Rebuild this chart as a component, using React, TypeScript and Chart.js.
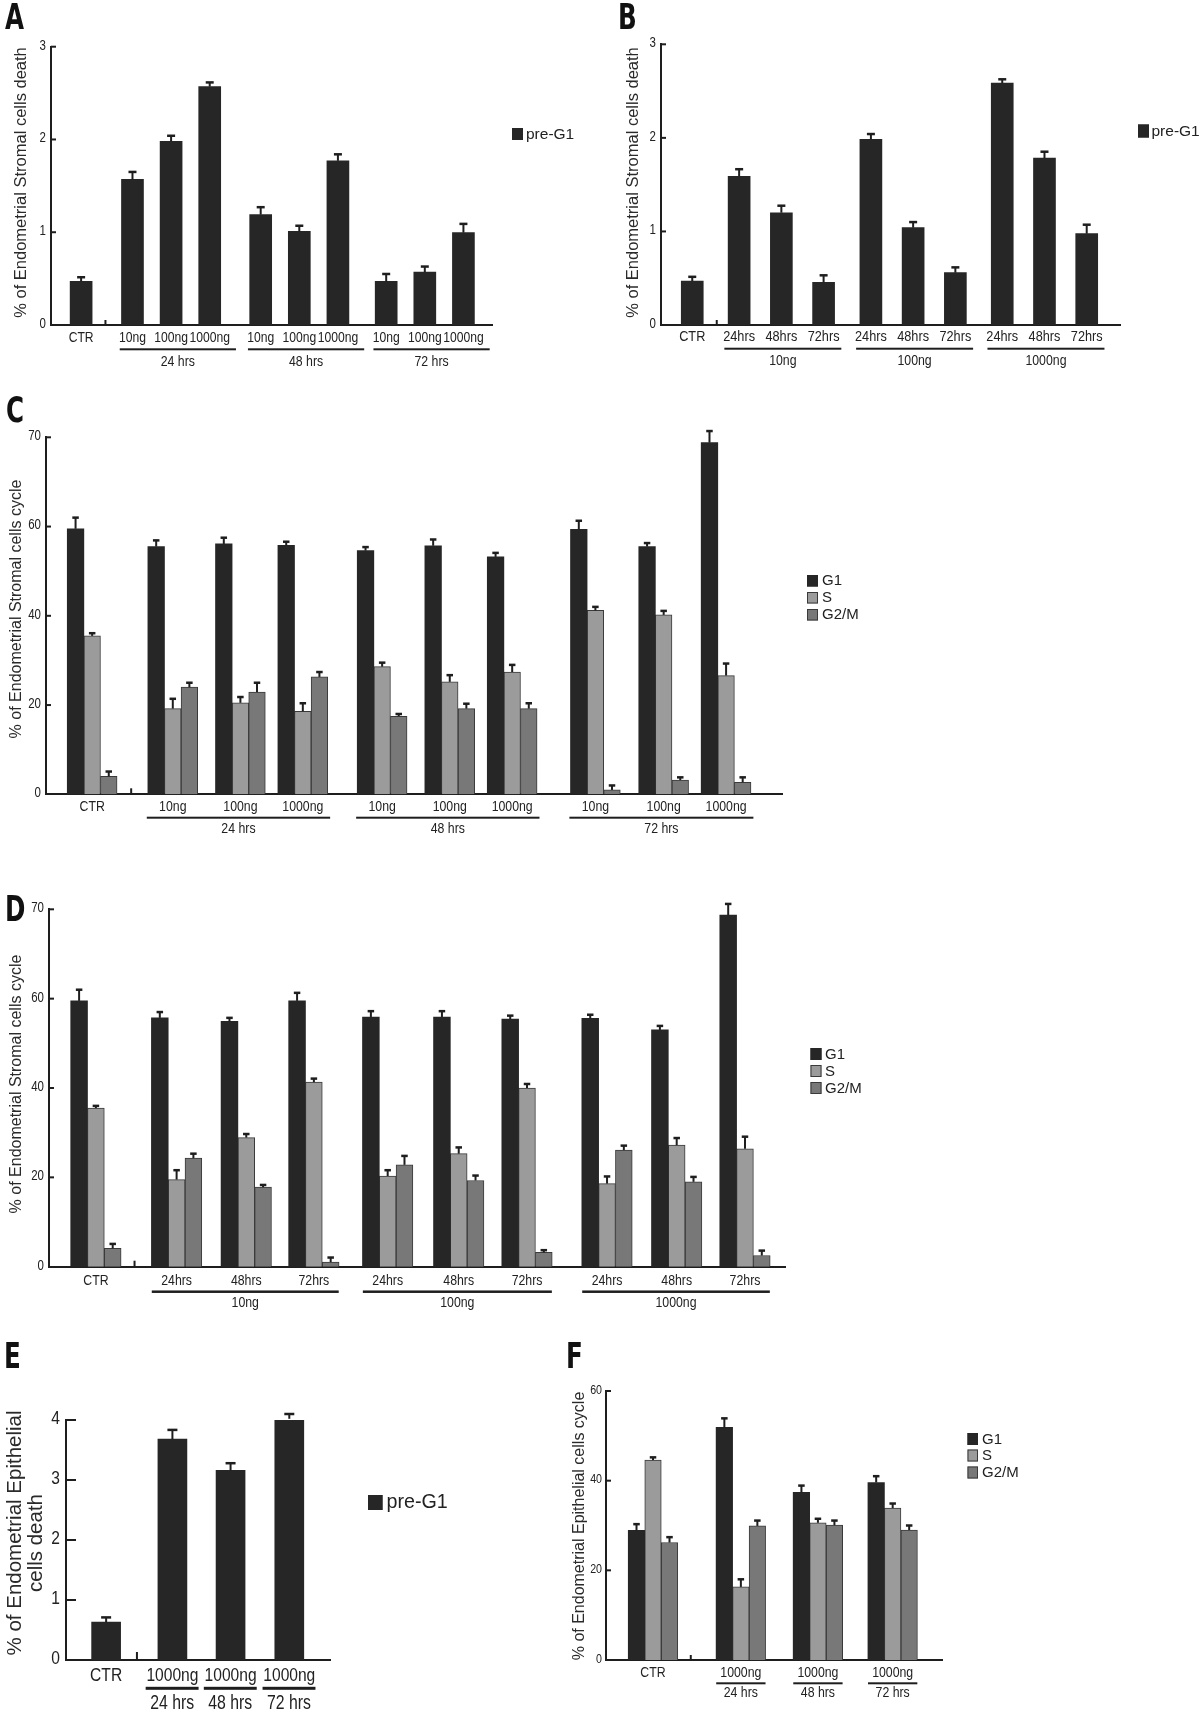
import React, { useEffect, useRef } from "react";
import { Chart, registerables } from "chart.js";

Chart.register(...registerables);

// ---------------- Data ----------------
const doseLabels = ["CTR", "10ng", "100ng", "1000ng", "10ng", "100ng", "1000ng", "10ng", "100ng", "1000ng"];
const timeLabels = ["CTR", "24hrs", "48hrs", "72hrs", "24hrs", "48hrs", "72hrs", "24hrs", "48hrs", "72hrs"];
const timeGroups = ["24 hrs", "48 hrs", "72 hrs"];
const doseGroups = ["10ng", "100ng", "1000ng"];
const epiLabels = ["CTR", "1000ng", "1000ng", "1000ng"];

// Panel A: pre-G1 by dose within time
const preG1A = [0.47, 1.57, 1.98, 2.57, 1.19, 1.01, 1.77, 0.47, 0.57, 0.995];
const preG1AErr = [0.045, 0.08, 0.06, 0.045, 0.08, 0.06, 0.07, 0.08, 0.06, 0.095];

// Panel B: pre-G1 by time within dose
const preG1B = [0.47, 1.59, 1.2, 0.456, 1.984, 1.04, 0.559, 2.586, 1.785, 0.976];
const preG1BErr = [0.045, 0.075, 0.075, 0.075, 0.057, 0.06, 0.057, 0.04, 0.067, 0.096];

// Panel C: cell cycle by dose within time
const g1C = [59.5, 55.5, 56.1, 55.8, 54.6, 55.7, 53.2, 59.4, 55.5, 78.8];
const g1CErr = [2.5, 1.4, 1.4, 0.8, 0.8, 1.4, 0.9, 1.9, 0.8, 2.6];
const sC = [35.5, 19.2, 20.5, 18.6, 28.6, 25.2, 27.4, 41.2, 40.2, 26.6];
const sCErr = [0.6, 2.2, 1.3, 1.8, 0.9, 1.5, 1.6, 0.8, 0.9, 2.7];
const g2mC = [4.0, 24.0, 22.9, 26.3, 17.5, 19.2, 19.2, 0.98, 3.2, 2.7];
const g2mCErr = [1.1, 1.0, 2.1, 1.1, 0.5, 1.1, 1.2, 1.0, 0.6, 1.1];

// Panel D: cell cycle by time within dose
const g1D = [59.5, 55.7, 54.9, 59.5, 55.9, 55.9, 55.4, 55.6, 53.0, 78.7];
const g1DErr = [2.5, 1.3, 0.8, 1.8, 1.3, 1.3, 0.8, 0.8, 0.9, 2.5];
const sD = [35.5, 19.5, 28.9, 41.3, 20.3, 25.3, 40.0, 18.6, 27.2, 26.4];
const sDErr = [0.5, 2.1, 0.8, 0.8, 1.3, 1.4, 0.9, 1.6, 1.6, 2.7];
const g2mD = [4.1, 24.3, 17.8, 1.05, 22.8, 19.3, 3.2, 26.1, 19.0, 2.5];
const g2mDErr = [1.0, 1.0, 0.5, 1.0, 2.0, 1.1, 0.5, 1.0, 1.1, 1.1];

// Panel E: epithelial pre-G1
const preG1E = [0.63, 3.68, 3.16, 4.02];
const preG1EErr = [0.08, 0.155, 0.12, 0.08];

// Panel F: epithelial cell cycle
const g1F = [28.9, 51.9, 37.4, 39.6];
const g1FErr = [1.4, 2.0, 1.5, 1.4];
const sF = [44.6, 16.3, 30.6, 33.9];
const sFErr = [0.6, 1.7, 0.9, 1.0];
const g2mF = [26.2, 29.9, 30.1, 29.0];
const g2mFErr = [1.2, 1.2, 1.0, 1.0];

// Axis ticks
const yTicksDeath = [0, 1, 2, 3];
const yTickLabelsDeath = ["0", "1", "2", "3"];
const yTicksCycle = [0, 20, 40, 60, 80];
const yTickLabelsCycle = ["0", "20", "40", "60", "70"];
const yTicksEpiDeath = [0, 1, 2, 3, 4];
const yTickLabelsEpiDeath = ["0", "1", "2", "3", "4"];
const yTicksEpiCycle = [0, 20, 40, 60];
const yTickLabelsEpiCycle = ["0", "20", "40", "60"];

// ---------------- Styles ----------------
const SANS = '"Liberation Sans", Arial, sans-serif';
const NARROW_SCALE = 0.82; // Arial Narrow = Arial glyphs at 82% width
const INK = "#1e1e1e";
const TEXT = "#222222";
const COL_G1 = "#262626";
const COL_S = "#9b9b9b";
const COL_G2M = "#787878";
const OUTLINE = "#3a3a3a";

const range3 = [[1, 3], [4, 6], [7, 9]];
const range1 = [[1, 1], [2, 2], [3, 3]];

function panels() {
  return [
    {
      canvas: { x: 0, y: 35, w: 600, h: 345 }, area: { l: 51, t: 46.7, r: 492, b: 325 },
      slots: [0, 1.33, 2.33, 3.33, 4.65, 5.65, 6.65, 7.9, 8.9, 9.9], xMin: -0.78, xMax: 10.64,
      labels: doseLabels, groupNames: timeGroups, groupRanges: range3,
      ulA: -0.33, ulB: 0.68, ulW: 2, labelDy: 13.3, ulDy: 24.3, groupDy: 36.7, xFont: 14.8, groupFont: 15,
      yMax: 3, yTicks: yTicksDeath, yTickLabels: yTickLabelsDeath, yFont: 14, yPad: 5, tickLen: 5,
      series: [{ label: "pre-G1", values: preG1A, errors: preG1AErr, fill: COL_G1, stroke: COL_G1 }],
      barThickness: 22, capW: 8,
      titleLines: ["% of Endometrial Stromal cells death"], titleX: [21], titleY: [182.5], titleFont: 16.5,
      legendX: 512, legendY: [128], legendW: 11, legendH: 12, legendTextX: 526, legendFont: 15.5,
      breakSlot: 0.63, breakH: 5,
    },
    {
      canvas: { x: 600, y: 35, w: 600, h: 345 }, area: { l: 661, t: 44.3, r: 1120.5, b: 325 },
      slots: [0, 1.11, 2.11, 3.11, 4.23, 5.23, 6.23, 7.34, 8.34, 9.34], xMin: -0.74, xMax: 10.14,
      labels: timeLabels, groupNames: doseGroups, groupRanges: range3,
      ulA: -0.35, ulB: 0.42, ulW: 2, labelDy: 11.7, ulDy: 23.7, groupDy: 36, xFont: 15.5, groupFont: 15,
      yMax: 3, yTicks: yTicksDeath, yTickLabels: yTickLabelsDeath, yFont: 14, yPad: 5, tickLen: 5,
      series: [{ label: "pre-G1", values: preG1B, errors: preG1BErr, fill: COL_G1, stroke: COL_G1 }],
      barThickness: 22, capW: 8,
      titleLines: ["% of Endometrial Stromal cells death"], titleX: [633], titleY: [182.5], titleFont: 16.5,
      legendX: 1138, legendY: [124.5], legendW: 11, legendH: 13, legendTextX: 1151.5, legendFont: 15.5,
      breakSlot: 0.58, breakH: 5,
    },
    {
      canvas: { x: 0, y: 425, w: 1000, h: 420 }, area: { l: 46, t: 437.3, r: 782, b: 794.3 },
      slots: [0, 1.24, 2.28, 3.24, 4.46, 5.5, 6.46, 7.74, 8.79, 9.75], xMin: -0.71, xMax: 10.61,
      labels: doseLabels, groupNames: timeGroups, groupRanges: range3,
      ulA: -0.4, ulB: 0.42, ulW: 2, labelDy: 12.4, ulDy: 23.4, groupDy: 35, xFont: 15, groupFont: 15,
      yMax: 80, yTicks: yTicksCycle, yTickLabels: yTickLabelsCycle, yFont: 14, yPad: 5, tickLen: 5,
      series: [
        { label: "G1", values: g1C, errors: g1CErr, fill: COL_G1, stroke: COL_G1 },
        { label: "S", values: sC, errors: sCErr, fill: COL_S, stroke: OUTLINE },
        { label: "G2/M", values: g2mC, errors: g2mCErr, fill: COL_G2M, stroke: OUTLINE },
      ],
      barThickness: 16.6, capW: 6.5,
      titleLines: ["% of Endometrial Stromal cells cycle"], titleX: [17], titleY: [609], titleFont: 16,
      legendX: 807, legendY: [575, 592, 609], legendW: 11, legendH: 11.5, legendTextX: 822, legendFont: 15,
      breakSlot: 0.6, breakH: 6,
    },
    {
      canvas: { x: 0, y: 895, w: 1000, h: 420 }, area: { l: 49, t: 909.3, r: 785, b: 1266.7 },
      slots: [0, 1.17, 2.18, 3.16, 4.23, 5.26, 6.25, 7.41, 8.42, 9.41], xMin: -0.68, xMax: 9.99,
      labels: timeLabels, groupNames: doseGroups, groupRanges: range3,
      ulA: -0.36, ulB: 0.36, ulW: 2.5, labelDy: 14, ulDy: 25, groupDy: 36.6, xFont: 15, groupFont: 15,
      yMax: 80, yTicks: yTicksCycle, yTickLabels: yTickLabelsCycle, yFont: 14, yPad: 5, tickLen: 5,
      series: [
        { label: "G1", values: g1D, errors: g1DErr, fill: COL_G1, stroke: COL_G1 },
        { label: "S", values: sD, errors: sDErr, fill: COL_S, stroke: OUTLINE },
        { label: "G2/M", values: g2mD, errors: g2mDErr, fill: COL_G2M, stroke: OUTLINE },
      ],
      barThickness: 16.8, capW: 6.5,
      titleLines: ["% of Endometrial Stromal cells cycle"], titleX: [17], titleY: [1084], titleFont: 16,
      legendX: 810.5, legendY: [1048, 1065, 1082], legendW: 11, legendH: 12, legendTextX: 825, legendFont: 15,
      breakSlot: 0.56, breakH: 6,
    },
    {
      canvas: { x: 0, y: 1385, w: 560, h: 328 }, area: { l: 66, t: 1420, r: 330, b: 1660 },
      slots: [0, 1.14, 2.14, 3.15], xMin: -0.69, xMax: 3.85,
      labels: epiLabels, groupNames: timeGroups, groupRanges: range1,
      ulA: -0.46, ulB: 0.45, ulW: 3, labelDy: 16, ulDy: 28.3, groupDy: 44, xFont: 19, groupFont: 19.3,
      yMax: 4, yTicks: yTicksEpiDeath, yTickLabels: yTickLabelsEpiDeath, yFont: 19, yPad: 6, tickLen: 10,
      series: [{ label: "pre-G1", values: preG1E, errors: preG1EErr, fill: COL_G1, stroke: COL_G1 }],
      barThickness: 29, capW: 10,
      titleLines: ["% of Endometrial Epithelial", "cells death"], titleX: [15, 36], titleY: [1533, 1543], titleFont: 20.5,
      legendX: 368, legendY: [1495], legendW: 14.5, legendH: 15, legendTextX: 386.5, legendFont: 19.7,
      breakSlot: 0.53, breakH: 8,
    },
    {
      canvas: { x: 560, y: 1370, w: 640, h: 343 }, area: { l: 606, t: 1391, r: 942, b: 1660 },
      slots: [0, 1.14, 2.14, 3.11], xMin: -0.61, xMax: 3.75,
      labels: epiLabels, groupNames: timeGroups, groupRanges: range1,
      ulA: -0.32, ulB: 0.32, ulW: 2, labelDy: 13, ulDy: 23.3, groupDy: 32.7, xFont: 15, groupFont: 15,
      yMax: 60, yTicks: yTicksEpiCycle, yTickLabels: yTickLabelsEpiCycle, yFont: 13, yPad: 4, tickLen: 5,
      series: [
        { label: "G1", values: g1F, errors: g1FErr, fill: COL_G1, stroke: COL_G1 },
        { label: "S", values: sF, errors: sFErr, fill: COL_S, stroke: OUTLINE },
        { label: "G2/M", values: g2mF, errors: g2mFErr, fill: COL_G2M, stroke: OUTLINE },
      ],
      barThickness: 16.5, capW: 6.5,
      titleLines: ["% of Endometrial Epithelial cells cycle"], titleX: [580], titleY: [1526], titleFont: 16,
      legendX: 967.5, legendY: [1433, 1449.5, 1466.5], legendW: 10.5, legendH: 12, legendTextX: 982, legendFont: 15,
      breakSlot: 0.49, breakH: 5,
    },
  ];
}

const panelLetters = [
  { t: "A", x: 4.5, y: 0 },
  { t: "B", x: 618, y: 0 },
  { t: "C", x: 6, y: 393 },
  { t: "D", x: 5, y: 892 },
  { t: "E", x: 4, y: 1339 },
  { t: "F", x: 566, y: 1339 },
];

function narrowText(ctx: any, text: string, x: number, y: number, size: number, align: string) {
  ctx.save();
  ctx.font = `${size}px ${SANS}`;
  ctx.textAlign = align;
  ctx.textBaseline = "middle";
  ctx.translate(x, y);
  ctx.scale(NARROW_SCALE, 1);
  ctx.fillText(text, 0, 0);
  ctx.restore();
}

function decorPlugin(p: any) {
  const ox = p.canvas.x;
  const oy = p.canvas.y;
  return {
    id: "decor",
    afterDatasetsDraw(chart: any) {
      const ctx = chart.ctx;
      const yScale = chart.scales.y;
      ctx.save();
      ctx.strokeStyle = INK;
      p.series.forEach((s: any, di: number) => {
        const meta = chart.getDatasetMeta(di);
        meta.data.forEach((bar: any, i: number) => {
          const top = yScale.getPixelForValue(s.values[i] + s.errors[i]);
          ctx.lineWidth = 2;
          ctx.beginPath();
          ctx.moveTo(bar.x, bar.y);
          ctx.lineTo(bar.x, top);
          ctx.stroke();
          ctx.lineWidth = 2.5;
          ctx.beginPath();
          ctx.moveTo(bar.x - p.capW / 2, top);
          ctx.lineTo(bar.x + p.capW / 2, top);
          ctx.stroke();
        });
      });
      ctx.restore();
    },
    afterDraw(chart: any) {
      const ctx = chart.ctx;
      const xScale = chart.scales.x;
      const yScale = chart.scales.y;
      const area = chart.chartArea;
      const axisY = area.bottom;
      ctx.save();
      ctx.fillStyle = INK;
      // inward y ticks
      p.yTicks.forEach((v: number) => {
        if (v === 0) return;
        const y = yScale.getPixelForValue(v);
        ctx.fillRect(area.left, y - 1, p.tickLen, 2);
      });
      // small break mark on the x axis
      const bx = xScale.getPixelForValue(p.breakSlot);
      ctx.fillRect(bx - 1, axisY - p.breakH, 2, p.breakH);
      // tick labels (narrow face)
      ctx.fillStyle = TEXT;
      xScale.ticks.forEach((t: any, i: number) => {
        narrowText(ctx, p.labels[i], xScale.getPixelForValue(t.value), axisY + p.labelDy, p.xFont, "center");
      });
      yScale.ticks.forEach((t: any, i: number) => {
        narrowText(ctx, p.yTickLabels[i], area.left - p.yPad, yScale.getPixelForValue(t.value) - 1, p.yFont, "right");
      });
      // group underlines and labels
      p.groupRanges.forEach((r: number[], gi: number) => {
        const x1 = xScale.getPixelForValue(p.slots[r[0]] + p.ulA);
        const x2 = xScale.getPixelForValue(p.slots[r[1]] + p.ulB);
        ctx.fillStyle = INK;
        ctx.fillRect(x1, axisY + p.ulDy - p.ulW / 2, x2 - x1, p.ulW);
        ctx.fillStyle = TEXT;
        narrowText(ctx, p.groupNames[gi], (x1 + x2) / 2, axisY + p.groupDy, p.groupFont, "center");
      });
      // y title
      ctx.font = `${p.titleFont}px ${SANS}`;
      ctx.fillStyle = "#2a2a2a";
      p.titleLines.forEach((line: string, li: number) => {
        ctx.save();
        ctx.translate(p.titleX[li] - ox, p.titleY[li] - oy);
        ctx.rotate(-Math.PI / 2);
        ctx.textAlign = "center";
        ctx.textBaseline = "middle";
        ctx.fillText(line, 0, 0);
        ctx.restore();
      });
      // legend
      ctx.font = `${p.legendFont}px ${SANS}`;
      ctx.textAlign = "left";
      ctx.textBaseline = "middle";
      p.series.forEach((s: any, si: number) => {
        const lx = p.legendX - ox;
        const ly = p.legendY[si] - oy;
        ctx.fillStyle = s.fill;
        ctx.fillRect(lx, ly, p.legendW, p.legendH);
        ctx.strokeStyle = s.stroke;
        ctx.lineWidth = 1;
        ctx.strokeRect(lx + 0.5, ly + 0.5, p.legendW - 1, p.legendH - 1);
        ctx.fillStyle = TEXT;
        ctx.fillText(s.label, p.legendTextX - ox, ly + p.legendH / 2 + 0.5);
      });
      ctx.restore();
    },
  };
}

function buildConfig(p: any) {
  const yW = 40;
  const xH = 30;
  const padding = {
    left: p.area.l - p.canvas.x - yW,
    top: p.area.t - p.canvas.y,
    right: p.canvas.x + p.canvas.w - p.area.r,
    bottom: p.canvas.y + p.canvas.h - p.area.b - xH,
  };
  const datasets = p.series.map((s: any) => ({
    label: s.label,
    data: p.slots.map((x: number, i: number) => ({ x, y: s.values[i] })),
    backgroundColor: s.fill,
    borderColor: s.stroke,
    borderWidth: s.stroke === s.fill ? 0 : 1,
    borderSkipped: "bottom",
    barThickness: p.barThickness,
    grouped: true,
  }));
  return {
    type: "bar",
    data: { datasets },
    plugins: [decorPlugin(p)],
    options: {
      responsive: false,
      maintainAspectRatio: false,
      animation: false,
      devicePixelRatio: 1,
      layout: { padding, autoPadding: false },
      plugins: { legend: { display: false }, tooltip: { enabled: false }, title: { display: false } },
      scales: {
        x: {
          type: "linear",
          min: p.xMin,
          max: p.xMax,
          bounds: "data",
          offset: false,
          grid: { display: false, drawTicks: false },
          border: { display: true, color: INK, width: 2 },
          afterBuildTicks: (scale: any) => {
            scale.ticks = p.slots.map((v: number) => ({ value: v }));
          },
          afterFit: (scale: any) => {
            scale.height = xH;
          },
          ticks: { display: false, autoSkip: false, maxRotation: 0, minRotation: 0 },
        },
        y: {
          type: "linear",
          min: 0,
          max: p.yMax,
          grid: { display: false, drawTicks: false },
          border: { display: true, color: INK, width: 2 },
          afterBuildTicks: (scale: any) => {
            scale.ticks = p.yTicks.map((v: number) => ({ value: v }));
          },
          afterFit: (scale: any) => {
            scale.width = yW;
          },
          ticks: { display: false, autoSkip: false },
        },
      },
    },
  };
}

function PanelChart({ p }: { p: any }) {
  const ref = useRef<HTMLCanvasElement | null>(null);
  useEffect(() => {
    const canvas = ref.current;
    if (!canvas) return;
    const chart = new Chart(canvas, buildConfig(p) as any);
    return () => chart.destroy();
  }, [p]);
  return (
    <canvas
      ref={ref}
      width={p.canvas.w}
      height={p.canvas.h}
      style={{ position: "absolute", left: p.canvas.x, top: p.canvas.y, width: p.canvas.w, height: p.canvas.h }}
    />
  );
}

const PANELS = panels();

export default function App() {
  return (
    <div style={{ position: "absolute", left: 0, top: 0, width: 1200, height: 1713, background: "#ffffff", overflow: "hidden" }}>
      {PANELS.map((p, i) => (
        <PanelChart key={i} p={p} />
      ))}
      {panelLetters.map((l) => (
        <div
          key={l.t}
          style={{
            position: "absolute",
            left: l.x,
            top: l.y,
            fontFamily: '"DejaVu Sans Condensed", "DejaVu Sans", sans-serif',
            fontStretch: "condensed",
            fontWeight: 900,
            fontSize: 35,
            lineHeight: "35px",
            color: "#111",
            transform: "scaleX(0.78)",
            transformOrigin: "left top",
          }}
        >
          {l.t}
        </div>
      ))}
    </div>
  );
}
